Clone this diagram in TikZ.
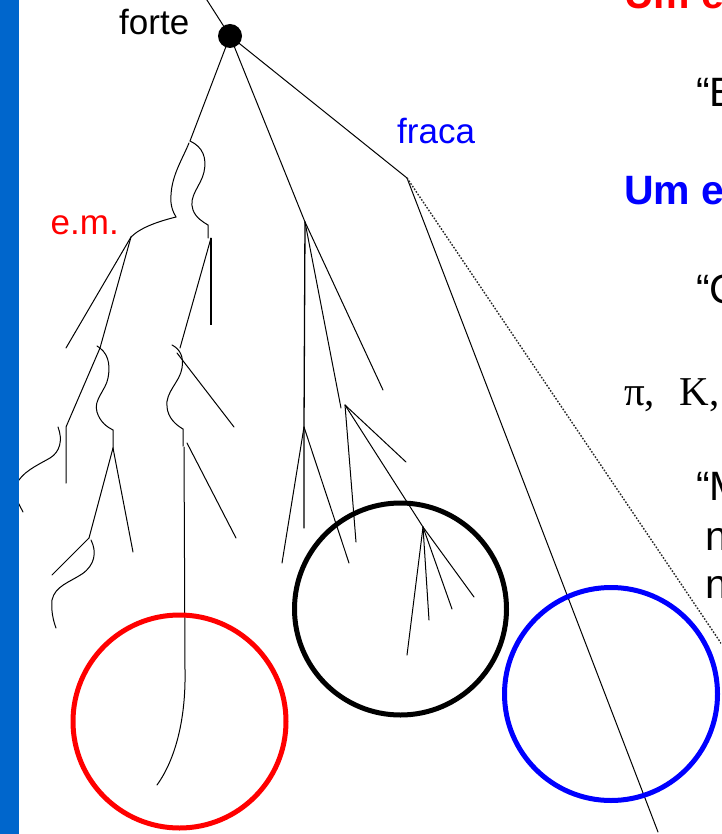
\documentclass[tikz,border=0pt]{standalone}
\usepackage{fontspec}
\setmainfont{Liberation Sans}
\newfontfamily\serifface{Liberation Serif}
\definecolor{barblue}{RGB}{0,102,204}
\definecolor{emred}{RGB}{255,0,0}
\definecolor{weakblue}{RGB}{0,0,255}
\begin{document}
\begin{tikzpicture}[x=1pt,y=-1pt,
  track/.style={line width=1pt, line cap=round, black},
  heavytrack/.style={line width=1.4pt, black},
  ring/.style={line width=5pt},
  label/.style={inner sep=0pt, anchor=base west, font=\fontsize{35}{40}\selectfont},
  title/.style={inner sep=0pt, anchor=base west, font=\fontsize{41}{48}\selectfont\bfseries},
  body/.style={inner sep=0pt, anchor=base west, font=\fontsize{41}{48}\selectfont}]
\useasboundingbox (0,0) rectangle (721,834);
\fill[white] (0,0) rectangle (721,834);
\clip (0,0) rectangle (721,834);

% ---- vertices of the shower ----
\coordinate (top) at (205,-3);
\coordinate (vtx) at (230,36);
\coordinate (lft) at (190,141);
\coordinate (mid) at (305,222);
\coordinate (wk) at (407,178);
% electromagnetic side
\coordinate (emA) at (208,225);
\coordinate (emB) at (208,238);
\coordinate (emC) at (176,217);
\coordinate (em) at (131,237);
\coordinate (eA) at (66,348);
\coordinate (eB) at (100,348);
\coordinate (eC) at (66,427);
\coordinate (eD) at (66,483);
\coordinate (eE) at (113,430);
\coordinate (eF) at (113,448);
\coordinate (eG) at (89,538);
\coordinate (eH) at (133,552);
\coordinate (eI) at (52,575);
% central-left group
\coordinate (cA) at (211,238);
\coordinate (cB) at (211,325);
\coordinate (cC) at (180,348);
\coordinate (cD) at (183,429);
\coordinate (cE) at (183,446);
\coordinate (cF) at (177,353);
\coordinate (cG) at (234,427);
\coordinate (cH) at (184,447);
\coordinate (cI) at (185,670);
\coordinate (cJ) at (157,785);
\coordinate (cK) at (187,443);
\coordinate (cL) at (236,538);
% hadronic branch
\coordinate (hA) at (341,408);
\coordinate (hB) at (383,390);
\coordinate (hC) at (304,427);
\coordinate (hD) at (304,528);
\coordinate (hE) at (282,563);
\coordinate (hF) at (349,563);
\coordinate (hG) at (345,405);
\coordinate (hH) at (356,542);
\coordinate (hI) at (406,462);
\coordinate (hJ) at (423,527);
\coordinate (hK) at (407,655);
\coordinate (hL) at (429,620);
\coordinate (hM) at (452,609);
\coordinate (hN) at (474,597);
% weak branch
\coordinate (wA) at (658,832);
\coordinate (wB) at (729,655);

% ---- primary vertex and its three branches ----
\draw[track] (top) -- (vtx);
\draw[track] (vtx) -- (lft);
\draw[track] (vtx) -- (mid);
\draw[track] (vtx) -- (wk);

% ---- electromagnetic cascade ----
\draw[track] (lft) .. controls (203,147) and (207,158) .. (204,172)
  .. controls (201,186) and (188,196) .. (193,210)
  .. controls (196,218) and (203,222) .. (emA) -- (emB);
\draw[track] (189,143) .. controls (182,160) and (172,175) .. (171,195)
  .. controls (170,205) and (173,212) .. (emC);
\draw[track] (emC) .. controls (160,221) and (141,227) .. (em);
\draw[track] (em) -- (eA);
\draw[track] (em) -- (eB);
\draw[track] (eB) -- (eC) -- (eD);
\draw[track] (97,346) .. controls (107,352) and (111,362) .. (108,378)
  .. controls (106,390) and (93,400) .. (97,412)
  .. controls (100,422) and (107,427) .. (eE) -- (eF);
\draw[track] (eF) -- (eG);
\draw[track] (eF) -- (eH);
\draw[track] (eG) -- (eI);
\draw[track] (91,540) .. controls (97,552) and (95,565) .. (82,574)
  .. controls (70,582) and (55,586) .. (52,600)
  .. controls (51,610) and (53,620) .. (56,628);
\draw[track] (58,427) .. controls (63,440) and (60,452) .. (50,458)
  .. controls (36,466) and (22,472) .. (16,485)
  .. controls (12,494) and (18,502) .. (23,512);

% ---- central-left group ----
\draw[heavytrack] (cA) -- (cB);
\draw[track] (cA) -- (cC);
\draw[track] (172,345) .. controls (180,349) and (184,357) .. (182,368)
  .. controls (180,382) and (165,392) .. (167,407)
  .. controls (168,418) and (176,425) .. (cD) -- (cE);
\draw[track] (cF) -- (cG);
\draw[track] (cH) -- (cI) .. controls (186,720) and (175,760) .. (cJ);
\draw[track] (cK) -- (cL);

% ---- hadronic branch ----
\draw[track, line width=1.3pt] (mid) -- (hC) -- (hD);
\draw[track] (mid) -- (hA);
\draw[track] (mid) -- (hB);
\draw[track] (hC) -- (hE);
\draw[track] (hC) -- (hF);
\draw[track] (hG) -- (hH);
\draw[track] (hG) -- (hI);
\draw[track] (hG) -- (hJ);
\draw[track] (hJ) -- (hK);
\draw[track] (hJ) -- (hL);
\draw[track] (hJ) -- (hM);
\draw[track] (hJ) -- (hN);

% ---- weak branch ----
\draw[track] (wk) -- (wA);
\draw[line width=1.4pt, black!85, dash pattern=on 1.6pt off 1.6pt] (wk) -- (wB);

% ---- detector rings ----
\draw[ring, emred] (179.5,721.5) circle[radius=106.5];
\draw[ring, black] (400.5,609) circle[radius=106];
\draw[ring, weakblue] (611,694) circle[radius=106.5];

% ---- vertex marker ----
\fill[black] (vtx) circle[radius=12];

% ---- branch labels ----
\node[label, black] (forte) at (119,35) {forte};
\node[label, weakblue] (fraca) at (397,144) {fraca};
\node[label, emred] (emlbl) at (50.5,234) {e.m.};

% ---- side text ----
\node[title, emred] (t1) at (624,9) {Um e};
\node[body] (q1) at (696,107) {“E};
\node[title, weakblue] (t2) at (624,205) {Um e};
\node[body] (q2) at (696,303) {“C};
\node[body, font=\fontsize{41}{48}\selectfont\serifface] (pk) at (624,405) {π,~~\hspace{4pt}K,};
\node[body] (q3) at (696,500) {“M};
\node[body] (n1) at (705,550) {n};
\node[body] (n2) at (705,598) {n};

% ---- side bar ----
\fill[barblue] (0,0) rectangle (19,834);
\end{tikzpicture}
\end{document}
